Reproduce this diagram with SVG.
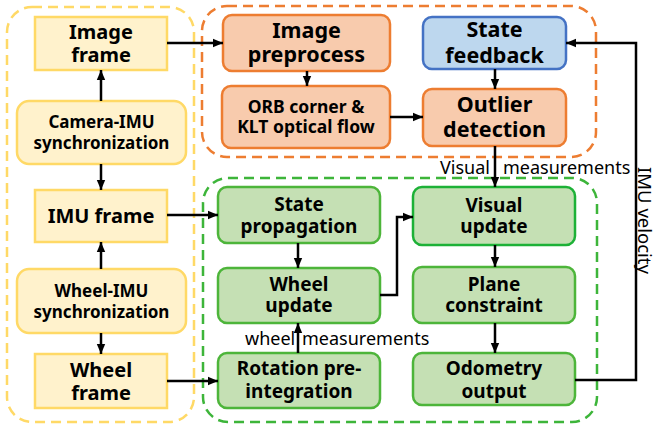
<svg xmlns="http://www.w3.org/2000/svg" width="653" height="430" viewBox="0 0 653 430">
  <style>
    .frame { fill: none; stroke-width: 2.5; stroke-dasharray: 10 6; }
    .yel { fill: #FFF2CC; stroke: #FFD966; stroke-width: 2.5; }
    .org { fill: #F8CBAD; stroke: #ED7D31; stroke-width: 2.5; }
    .blu { fill: #BDD7EE; stroke: #4472C4; stroke-width: 2.5; }
    .grn { fill: #C5E0B4; stroke: #4DB53A; stroke-width: 2.5; }
    text { font-family: "Noto Sans", "Open Sans", sans-serif; fill: #000; text-anchor: middle; }
    .big { font-size: 20px; font-weight: bold; }
    .lg { font-size: 21.5px; font-weight: bold; }
    .mid { font-size: 19px; font-weight: bold; }
    .orb { font-size: 17.5px; font-weight: bold; }
    .sm { font-size: 17px; font-weight: bold; }
    .lbl { font-size: 18px; text-anchor: start; }
    .conn { fill: none; stroke: #000; stroke-width: 2.5; }
  </style>
  <defs>
    <marker id="arrow" markerUnits="userSpaceOnUse" markerWidth="10" markerHeight="10" viewBox="0 0 10 10" refX="10" refY="5" orient="auto">
      <path d="M0,0.8 L10,5 L0,9.2 Z" fill="#000"/>
    </marker>
  </defs>

  <!-- dashed group outlines -->
  <rect class="frame" x="7" y="7" width="187" height="415" rx="25" stroke="#FFD966"/>
  <rect class="frame" x="202" y="6" width="394" height="151" rx="25" stroke="#ED7D31"/>
  <rect class="frame" x="203" y="178" width="394" height="244" rx="25" stroke="#3DB53A"/>

  <!-- sensor inputs -->
  <g id="image-frame">
    <rect class="yel" x="35" y="17" width="132" height="53"/>
    <text class="big"><tspan x="101" y="39">Image</tspan><tspan x="101" y="62">frame</tspan></text>
  </g>
  <g id="camera-imu-sync">
    <rect class="yel" x="17" y="101" width="169" height="63" rx="12"/>
    <text class="sm"><tspan x="101.5" y="128">Camera-IMU</tspan><tspan x="101.5" y="149">synchronization</tspan></text>
  </g>
  <g id="imu-frame">
    <rect class="yel" x="35" y="190" width="132" height="52"/>
    <text class="big" x="101" y="223">IMU frame</text>
  </g>
  <g id="wheel-imu-sync">
    <rect class="yel" x="17" y="269" width="169" height="64" rx="12"/>
    <text class="sm"><tspan x="101.5" y="296.5">Wheel-IMU</tspan><tspan x="101.5" y="317.5">synchronization</tspan></text>
  </g>
  <g id="wheel-frame">
    <rect class="yel" x="35" y="354" width="132" height="54"/>
    <text class="big"><tspan x="101" y="376.5">Wheel</tspan><tspan x="101" y="399.5">frame</tspan></text>
  </g>

  <!-- visual front end -->
  <g id="image-preprocess">
    <rect class="org" x="223" y="15" width="167" height="56" rx="9"/>
    <text class="lg"><tspan x="306.5" y="37.5">Image</tspan><tspan x="306.5" y="62">preprocess</tspan></text>
  </g>
  <g id="orb-klt">
    <rect class="org" x="222" y="86" width="168" height="62" rx="9"/>
    <text class="orb"><tspan x="306" y="113">ORB corner &amp;</tspan><tspan x="306" y="133">KLT optical flow</tspan></text>
  </g>
  <g id="state-feedback">
    <rect class="blu" x="423" y="17" width="143" height="52" rx="9"/>
    <text class="lg"><tspan x="494.5" y="37">State</tspan><tspan x="494.5" y="62.5">feedback</tspan></text>
  </g>
  <g id="outlier-detection">
    <rect class="org" x="423" y="89" width="143" height="57" rx="9"/>
    <text class="lg"><tspan x="494.5" y="112">Outlier</tspan><tspan x="494.5" y="137">detection</tspan></text>
  </g>

  <!-- filter back end -->
  <g id="state-propagation">
    <rect class="grn" x="218" y="187" width="162" height="56" rx="9"/>
    <text class="mid"><tspan x="299" y="211">State</tspan><tspan x="299" y="233">propagation</tspan></text>
  </g>
  <g id="wheel-update">
    <rect class="grn" x="218" y="268" width="162" height="55" rx="9"/>
    <text class="mid"><tspan x="299" y="290.5">Wheel</tspan><tspan x="299" y="311.5">update</tspan></text>
  </g>
  <g id="rotation-preintegration">
    <rect class="grn" x="218" y="353" width="162" height="55" rx="9"/>
    <text class="mid"><tspan x="299" y="375">Rotation pre-</tspan><tspan x="299" y="398">integration</tspan></text>
  </g>
  <g id="visual-update">
    <rect class="grn" x="413" y="187" width="162" height="58" rx="9" style="stroke:#1DB137"/>
    <text class="mid"><tspan x="494" y="211.5">Visual</tspan><tspan x="494" y="233">update</tspan></text>
  </g>
  <g id="plane-constraint">
    <rect class="grn" x="413" y="267" width="162" height="56" rx="9"/>
    <text class="mid"><tspan x="494" y="290.5">Plane</tspan><tspan x="494" y="311.5">constraint</tspan></text>
  </g>
  <g id="odometry-output">
    <rect class="grn" x="413" y="353" width="162" height="52" rx="9"/>
    <text class="mid"><tspan x="494" y="375">Odometry</tspan><tspan x="494" y="397.5">output</tspan></text>
  </g>

  <!-- connectors -->
  <g id="connectors">
    <path class="conn" d="M167,43 H223" marker-end="url(#arrow)"/>
    <path class="conn" d="M101,101 V70" marker-end="url(#arrow)"/>
    <path class="conn" d="M101,164 V190" marker-end="url(#arrow)"/>
    <path class="conn" d="M101,269 V242" marker-end="url(#arrow)"/>
    <path class="conn" d="M101,333 V354" marker-end="url(#arrow)"/>
    <path class="conn" d="M167,215 H218" marker-end="url(#arrow)"/>
    <path class="conn" d="M167,381 H218" marker-end="url(#arrow)"/>
    <path class="conn" d="M307,71 V86" marker-end="url(#arrow)"/>
    <path class="conn" d="M390,117 H423" marker-end="url(#arrow)"/>
    <path class="conn" d="M495,69 V89" marker-end="url(#arrow)"/>
    <path class="conn" d="M495,146 V187" marker-end="url(#arrow)"/>
    <path class="conn" d="M298,243 V268" marker-end="url(#arrow)"/>
    <path class="conn" d="M298,353 V323" marker-end="url(#arrow)"/>
    <path class="conn" d="M380,295 H397 V217 H413" marker-end="url(#arrow)"/>
    <path class="conn" d="M495,245 V267" marker-end="url(#arrow)"/>
    <path class="conn" d="M495,323 V353" marker-end="url(#arrow)"/>
    <path class="conn" d="M575,380 H636 V43 H566" marker-end="url(#arrow)"/>
  </g>

  <!-- connector labels -->
  <text class="lbl" y="174"><tspan x="440">Visual</tspan><tspan x="503">measurements</tspan></text>
  <text class="lbl" y="345"><tspan x="245">wheel</tspan><tspan x="302">measurements</tspan></text>
  <text class="lbl" style="font-size:18.5px" transform="translate(638,167) rotate(90)">IMU velocity</text>
</svg>
